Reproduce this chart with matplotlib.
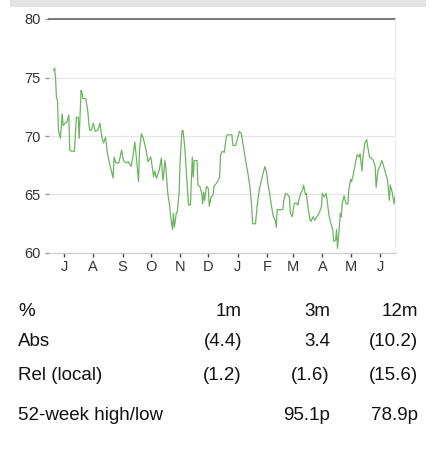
import datetime as dt
import matplotlib
matplotlib.use("Agg")
import matplotlib.pyplot as plt
import matplotlib.dates as mdates
from matplotlib.patches import Rectangle

plt.rcParams['font.family'] = ['Liberation Sans', 'DejaVu Sans']

# ---- data: days since 1 July 2018 and share price (p) ----
start = dt.date(2018, 7, 1)
days = [-11, -10, -9, -8, -7, -6, -4, -2, -1, 1, 3, 5, 6, 8, 11, 13, 15, 16, 18, 19,
        20, 23, 25, 27, 29, 31, 33, 36, 38, 40, 42, 44, 46, 49, 52, 53, 55, 58, 60, 61,
        63, 66, 68, 71, 73, 75, 77, 79, 80, 82, 84, 87, 89, 92, 95, 96, 98, 101, 103, 105,
        107, 108, 110, 112, 113, 115, 116, 117, 119, 120, 122, 123, 125, 126, 128, 130, 132, 134, 136, 137,
        138, 141, 142, 144, 146, 147, 148, 149, 151, 153, 154, 156, 158, 159, 162, 164,
        165, 166, 168, 170, 172, 173, 176, 178, 179, 182, 184, 186, 188, 189, 191, 193, 195, 197, 199, 200,
        203, 205, 207, 209, 211, 213, 215, 216, 218, 220, 222, 224, 225, 226, 229, 232, 233, 235, 237, 239,
        240, 242, 244, 246, 248, 249, 251, 253, 254, 256, 257, 259, 261, 262, 264, 266, 268, 269, 271, 273,
        274, 276, 278, 279, 281, 283, 285, 286, 288, 289, 290, 292, 293, 294, 295, 297, 299, 301, 302, 304,
        305, 307, 309, 311, 313, 314, 316, 317, 319, 321, 322, 324, 326, 328, 330, 331, 333, 335, 337, 338,
        339, 341, 343, 345, 346, 348, 350, 351]
price = [75.6, 75.8, 74.8, 73.2, 73.1, 70.5, 69.8, 71.9, 70.9, 71.1, 71.2, 71.8, 68.8, 68.7, 68.7, 71.6, 71.6, 69.8, 73.9, 73.7,
         73.2, 73.2, 72.2, 70.5, 70.5, 71.1, 70.4, 70.5, 71.1, 69.9, 69.4, 69.9, 68.5, 67.4, 66.4, 68.2, 67.7, 67.7, 68.4, 68.8,
         67.9, 67.7, 67.8, 67.4, 68.2, 69.5, 67.9, 66.1, 68.8, 70.2, 69.8, 68.8, 67.8, 68.2, 66.5, 67.0, 66.4, 67.1, 68.1, 66.2,
         67.9, 67.2, 65.1, 64.0, 63.2, 62.0, 63.4, 62.2, 63.4, 63.5, 65.1, 67.7, 70.4, 70.5, 69.1, 66.5, 64.1, 64.1, 68.2, 66.5,
         67.9, 67.9, 65.8, 65.7, 65.1, 64.2, 65.2, 64.5, 65.7, 65.5, 64.0, 64.8, 64.9, 65.7, 66.0, 66.3,
         66.5, 68.4, 68.7, 68.6, 69.9, 70.1, 70.1, 70.1, 69.2, 69.2, 69.8, 70.4, 70.2, 69.7, 68.7, 67.7, 66.8, 65.7, 64.0, 62.5,
         62.5, 64.2, 65.4, 66.1, 66.8, 67.4, 66.8, 66.0, 65.1, 64.0, 63.1, 62.8, 62.2, 63.7, 63.7, 63.7, 64.5, 65.1, 65.0, 64.8,
         63.4, 63.1, 64.2, 64.3, 64.1, 64.5, 65.1, 65.4, 65.8, 65.0, 65.1, 63.7, 62.8, 62.7, 63.1, 62.8, 63.1, 63.2, 63.5, 64.0,
         65.1, 64.8, 65.1, 64.5, 63.2, 62.5, 62.0, 61.0, 61.1, 62.0, 60.4, 62.2, 63.4, 63.1, 64.2, 64.9, 64.2, 64.2, 65.4, 66.3,
         66.1, 66.8, 67.7, 68.4, 68.2, 68.5, 67.0, 68.2, 69.4, 69.7, 69.1, 68.2, 68.1, 67.9, 67.4, 65.6, 67.1, 67.4, 67.9, 67.7,
         67.4, 66.8, 66.3, 64.5, 65.8, 65.2, 64.2, 64.8]
yticks = [60, 65, 70, 75, 80]

header = ["%", "1m", "3m", "12m"]
rows = [["Abs", "(4.4)", "3.4", "(10.2)"],
        ["Rel (local)", "(1.2)", "(1.6)", "(15.6)"]]
hilo = ["52-week high/low", "95.1p", "78.9p"]

dates = [start + dt.timedelta(days=d) for d in days]

W, H = 433, 455
fig = plt.figure(figsize=(W / 100, H / 100), dpi=100)

def fx(px):
    return px / W

def fy(py):
    return 1 - py / H

# top grey band
fig.patches.append(Rectangle((fx(10), fy(7)), fx(416), 7 / H, transform=fig.transFigure,
                             facecolor='#e4e4e4', edgecolor='none', zorder=0))

ax = fig.add_axes([fx(49), fy(253), fx(395 - 49), (253 - 19) / H])
ax.plot(dates, price, color='#6cb560', lw=0.9, zorder=3)

ax.set_ylim(60, 80)
ax.set_xlim(start + dt.timedelta(days=-16), start + dt.timedelta(days=351))
ax.set_yticks(yticks)
for v in yticks[1:-1]:
    ax.axhline(v, color='#e6e6e6', lw=0.9, zorder=1)
ax.axhline(80, color='#555555', lw=1.1, zorder=2, clip_on=False)

for s in ['left', 'top']:
    ax.spines[s].set_visible(False)
ax.spines['bottom'].set_color('#cccccc')
ax.spines['bottom'].set_linewidth(0.9)
ax.spines['right'].set_color('#eeeeee')
ax.spines['right'].set_linewidth(0.9)

ax.xaxis.set_major_locator(mdates.MonthLocator())
ax.xaxis.set_major_formatter(plt.FuncFormatter(lambda x, p: mdates.num2date(x).strftime('%b')[0]))
ax.tick_params(axis='x', length=3, width=1, color='#444444', labelsize=10.5, labelcolor='#333333', pad=2)
ax.tick_params(axis='y', length=3, width=1, color='#999999', labelsize=10.5, labelcolor='#333333', pad=3)

# table
fs = 13.5
def row(py, cells, xs):
    for i, (c, x) in enumerate(zip(cells, xs)):
        fig.text(fx(x), fy(py), c, ha='left' if i == 0 else 'right', va='center',
                 fontsize=fs, color='#111111')

row(311, header, [18, 242, 330, 418])
row(342, rows[0], [18, 242, 330, 418])
row(375, rows[1], [18, 242, 330, 418])
row(416, hilo, [18, 330, 418])

fig.savefig('out.png', dpi=100)
